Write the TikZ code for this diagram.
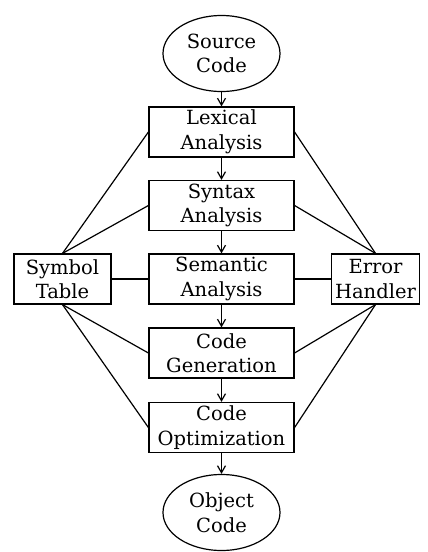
\documentclass[tikz,border=0pt]{standalone}
\usepackage{amsmath, amsthm}
\usepackage{amssymb}
\usepackage{fontspec}
\setmainfont{DejaVu Serif}
\usetikzlibrary{shapes.geometric, arrows.meta}

\begin{document}
\begin{tikzpicture}[x=1pt, y=-1pt,
  phase/.style={draw, line width=1.2pt, minimum width=145pt, minimum height=50pt,
    inner sep=0pt, align=center, font=\fontsize{19.5}{24.5}\selectfont},
  side/.style={phase, minimum width=92pt},
  term/.style={draw, ellipse, line width=1.2pt, minimum width=117pt, minimum height=76pt,
    inner sep=0pt, align=center, font=\fontsize{19.5}{24.5}\selectfont},
  flow/.style={line width=1.2pt, -{Straight Barb[length=7pt, width=8pt, line width=1.2pt]}},
  link/.style={line width=1.2pt}]

\useasboundingbox (0,0) rectangle (428,552);

%% terminals
\node[term] (src) at (221.5,53.5) {Source\\Code};
\node[term] (obj) at (221.5,512.5) {Object\\Code};

%% phases
\node[phase] (lex) at (221.5,132) {Lexical\\Analysis};
\node[phase] (syn) at (221.5,205.5) {Syntax\\Analysis};
\node[phase] (sem) at (221.5,279) {Semantic\\Analysis};
\node[phase] (gen) at (221.5,353) {Code\\Generation};
\node[phase] (opt) at (221.5,427.5) {Code\\Optimization};

%% side boxes
\node[side, minimum width=97pt] (sym) at (62.5,279) {Symbol\\Table};
\node[side, minimum width=88pt] (err) at (375.5,279) {Error\\Handler};

%%% arrows
\draw[flow] (src) -- (lex);
\draw[flow] (lex) -- (syn);
\draw[flow] (syn) -- (sem);
\draw[flow] (sem) -- (gen);
\draw[flow] (gen) -- (opt);
\draw[flow] (opt) -- (obj);

%%% links to symbol table
\draw[link] (sym.north) -- (lex.west);
\draw[link] (sym.north) -- (syn.west);
\draw[link] (sym.east) -- (sem.west);
\draw[link] (sym.south) -- (gen.west);
\draw[link] (sym.south) -- (opt.west);

%%% links to error handler
\draw[link] (err.north) -- (lex.east);
\draw[link] (err.north) -- (syn.east);
\draw[link] (err.west) -- (sem.east);
\draw[link] (err.south) -- (gen.east);
\draw[link] (err.south) -- (opt.east);

\end{tikzpicture}
\end{document}
